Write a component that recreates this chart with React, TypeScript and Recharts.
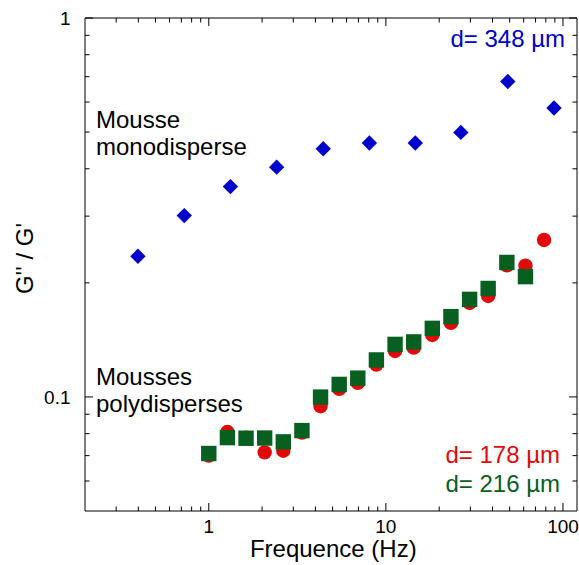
import { ScatterChart, Scatter, XAxis, YAxis } from 'recharts';

// monodisperse foam, d = 348 µm
const monoFreq = [0.398, 0.727, 1.325, 2.416, 4.43, 8.07, 14.66, 26.5, 48.8, 89];
const monoRatio = [0.235, 0.301, 0.359, 0.404, 0.452, 0.468, 0.468, 0.499, 0.68, 0.579];

// polydisperse foams, same frequency sweep
const polyFreq = [
  1, 1.274, 1.623, 2.068, 2.635, 3.357, 4.277, 5.45, 6.94, 8.84,
  11.27, 14.36, 18.29, 23.3, 29.7, 37.8, 48.2, 61.4, 78.2,
];
const ratio178 = [
  0.07, 0.0808, 0.078, 0.0714, 0.0721, 0.0805, 0.0945, 0.105, 0.1089, 0.1217,
  0.1322, 0.1349, 0.1457, 0.1568, 0.177, 0.1847, 0.2225, 0.222, 0.2596,
];
const ratio216 = [
  0.0709, 0.0781, 0.0778, 0.0779, 0.0761, 0.0815, 0.0999, 0.1079, 0.1121, 0.1252,
  0.1376, 0.1397, 0.1517, 0.1629, 0.1809, 0.1933, 0.2264, 0.2077,
];

const xTicks = [
  0.3, 0.4, 0.5, 0.6, 0.7, 0.8, 0.9, 1, 2, 3, 4, 5, 6, 7, 8, 9, 10,
  20, 30, 40, 50, 60, 70, 80, 90, 100,
];
const xMajor = [1, 10, 100];
const yTicks = [0.06, 0.07, 0.08, 0.09, 0.1, 0.2, 0.3, 0.4, 0.5, 0.6, 0.7, 0.8, 0.9, 1];
const yMajor = [0.1, 1];

const BLUE = '#0000cc';
const RED = '#e00a0a';
const GREEN = '#07601f';
const FONT = '"Liberation Sans", Arial, sans-serif';

const monoData = monoFreq.map((f, i) => ({ f, r: monoRatio[i] }));
const data178 = polyFreq.map((f, i) => ({ f, r: ratio178[i] }));
const data216 = ratio216.map((r, i) => ({ f: polyFreq[i], r }));

const tickLen = (major: boolean) => (major ? 8 : 4.5);

function BottomTick({ x, y, payload }: any) {
  const major = xMajor.includes(payload.value);
  return (
    <g>
      <line x1={x} x2={x} y1={y} y2={y - tickLen(major)} stroke="#000" />
      {major && (
        <text x={x} y={y + 21.5} textAnchor="middle" fontSize={19} fontFamily={FONT} fill="#000">
          {payload.value}
        </text>
      )}
    </g>
  );
}

function TopTick({ x, y, payload }: any) {
  const major = xMajor.includes(payload.value);
  return <line x1={x} x2={x} y1={y} y2={y + tickLen(major)} stroke="#000" />;
}

function LeftTick({ x, y, payload }: any) {
  const major = yMajor.includes(payload.value);
  return (
    <g>
      <line x1={x} x2={x + tickLen(major)} y1={y} y2={y} stroke="#000" />
      {major && (
        <text x={x - 14.5} y={y} dy="0.35em" textAnchor="end" fontSize={19} fontFamily={FONT} fill="#000">
          {payload.value}
        </text>
      )}
    </g>
  );
}

function RightTick({ x, y, payload }: any) {
  const major = yMajor.includes(payload.value);
  return <line x1={x} x2={x - tickLen(major)} y1={y} y2={y} stroke="#000" />;
}

const Diamond = ({ cx, cy }: any) => (
  <path d={`M${cx},${cy - 7.7}L${cx + 7.7},${cy}L${cx},${cy + 7.7}L${cx - 7.7},${cy}Z`} fill={BLUE} />
);
const Dot = ({ cx, cy }: any) => <circle cx={cx} cy={cy} r={7.2} fill={RED} />;
const Square = ({ cx, cy }: any) => <rect x={cx - 7.7} y={cy - 7.7} width={15.4} height={15.4} fill={GREEN} />;

const logX = { dataKey: 'f', type: 'number' as const, scale: 'log' as const, domain: [0.2, 120], allowDataOverflow: true, ticks: xTicks, interval: 0 as const, tickSize: 0, tickMargin: 0, tickLine: false, axisLine: { stroke: '#000' } };
const logY = { dataKey: 'r', type: 'number' as const, scale: 'log' as const, domain: [0.05, 1], allowDataOverflow: true, ticks: yTicks, interval: 0 as const, tickSize: 0, tickMargin: 0, tickLine: false, axisLine: { stroke: '#000' } };

export default function App() {
  const W = 579;
  const H = 565;
  return (
    <div style={{ position: 'relative', width: W, height: H }}>
      <style>{'body{margin:0}'}</style>
      <ScatterChart width={W} height={H} margin={{ top: 17, right: 1, bottom: 0, left: 0 }} style={{ overflow: 'visible' }}>
        <XAxis xAxisId="b" {...logX} tick={<BottomTick />} height={54} />
        <XAxis xAxisId="t" orientation="top" {...logX} tick={<TopTick />} height={1} />
        <YAxis yAxisId="l" {...logY} tick={<LeftTick />} width={85} />
        <YAxis yAxisId="r" orientation="right" {...logY} tick={<RightTick />} width={1} />
        <Scatter xAxisId="b" yAxisId="l" data={monoData} shape={<Diamond />} isAnimationActive={false} />
        <Scatter xAxisId="b" yAxisId="l" data={data178} shape={<Dot />} isAnimationActive={false} />
        <Scatter xAxisId="b" yAxisId="l" data={data216} shape={<Square />} isAnimationActive={false} />
      </ScatterChart>
      <svg
        width={W}
        height={H}
        style={{ position: 'absolute', left: 0, top: 0, pointerEvents: 'none' }}
        fontFamily={FONT}
        fontSize={24}
      >
        <text x={96} y={128.3} fill="#000">Mousse</text>
        <text x={96} y={155} fill="#000">monodisperse</text>
        <text x={96} y={385} fill="#000">Mousses</text>
        <text x={96} y={411.7} fill="#000">polydisperses</text>
        <text x={565} y={46.7} textAnchor="end" fill={BLUE}>d= 348 µm</text>
        <text x={560} y={462.7} textAnchor="end" fill={RED}>d= 178 µm</text>
        <text x={560} y={491.7} textAnchor="end" fill={GREEN}>d= 216 µm</text>
        <text x={333.3} y={557} textAnchor="middle" fill="#000">Frequence (Hz)</text>
        <text x={0} y={0} transform="translate(33,258.5) rotate(-90)" textAnchor="middle" fill="#000">
          G'' / G'
        </text>
      </svg>
    </div>
  );
}
